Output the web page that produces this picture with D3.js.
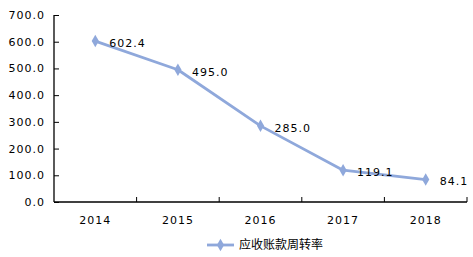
<!DOCTYPE html>
<html>
<head>
<meta charset="utf-8">
<script src="https://cdn.jsdelivr.net/npm/d3@7"></script>
<style>
  body { margin: 0; background: #fff; }
  svg { display: block; }
  text { font-family: "DejaVu Sans", Verdana, sans-serif; font-size: 11px; fill: #000; letter-spacing: 1px; }
  .legend text { font-family: "Noto Sans CJK SC", sans-serif; font-size: 12px; letter-spacing: 0; }
</style>
</head>
<body>
<svg id="chart" width="473" height="257"></svg>
<script>
const years = ['2014', '2015', '2016', '2017', '2018'];
const turnover = [602.4, 495.0, 285.0, 119.1, 84.1];
const yTicks = [0, 100, 200, 300, 400, 500, 600, 700];
const seriesName = '应收账款周转率';

const color = '#8FA8DB';
const svg = d3.select('#chart');

const x = d3.scaleBand().domain(years).range([54, 467]);
const y = d3.scaleLinear().domain([0, 700]).range([202, 15]);

// y axis
const yAxis = svg.append('g')
    .attr('transform', 'translate(54,0)')
    .call(d3.axisLeft(y).tickValues(yTicks).tickSize(5).tickPadding(4).tickFormat(d3.format('.1f')));
yAxis.select('.domain').attr('d', `M0,${y(700)}V${y(0)}`).attr('stroke', '#000').attr('stroke-width', 1.3);
yAxis.selectAll('.tick line').attr('x2', 5).attr('stroke', '#000');
yAxis.selectAll('text').attr('x', -9).style('font-size', '11px');

// x axis
const xAxis = svg.append('g').attr('transform', `translate(0,${y(0)})`);
xAxis.append('line').attr('x1', 54).attr('x2', 467).attr('stroke', '#000').attr('stroke-width', 1.3);
xAxis.selectAll('line.tick')
    .data(years.slice(1).concat(['end']))
    .enter().append('line')
    .attr('class', 'tick')
    .attr('x1', (d, i) => x(years[i]) + x.bandwidth())
    .attr('x2', (d, i) => x(years[i]) + x.bandwidth())
    .attr('y1', 0).attr('y2', -5)
    .attr('stroke', '#000');
xAxis.selectAll('text')
    .data(years)
    .enter().append('text')
    .attr('x', d => x(d) + x.bandwidth() / 2)
    .attr('y', 22)
    .attr('text-anchor', 'middle')
    .text(d => d);

// line
const pts = years.map((d, i) => ({year: d, value: turnover[i]}));
const cx = d => x(d.year) + x.bandwidth() / 2;

svg.append('path')
    .datum(pts)
    .attr('fill', 'none')
    .attr('stroke', color)
    .attr('stroke-width', 2.8)
    .attr('stroke-linejoin', 'round')
    .attr('d', d3.line().x(cx).y(d => y(d.value)));

const diamond = d3.symbol().type(d3.symbolDiamond).size(45);
svg.selectAll('path.marker')
    .data(pts)
    .enter().append('path')
    .attr('class', 'marker')
    .attr('transform', d => `translate(${cx(d)},${y(d.value)})`)
    .attr('d', diamond)
    .attr('fill', color);

svg.selectAll('text.label')
    .data(pts)
    .enter().append('text')
    .attr('class', 'label')
    .attr('x', d => cx(d) + 14)
    .attr('y', d => y(d.value) + 2)
    .attr('dy', '0.35em')
    .text(d => d.value.toFixed(1));

// legend
const legend = svg.append('g').attr('class', 'legend').attr('transform', 'translate(207,245)');
legend.append('line').attr('x1', 0).attr('x2', 27).attr('stroke', color).attr('stroke-width', 2.8);
legend.append('path').attr('transform', 'translate(13.5,0)').attr('d', diamond).attr('fill', color);
legend.append('text').attr('x', 32).attr('dy', '0.35em').text(seriesName);
</script>
</body>
</html>
